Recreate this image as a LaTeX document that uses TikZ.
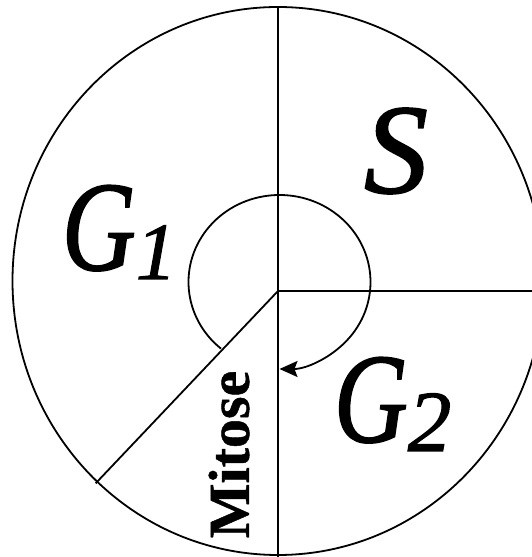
\documentclass[tikz,border=0pt]{standalone}
\usepackage{fontspec}
\setmainfont{Liberation Serif}
\newfontfamily\labelfam{Liberation Serif}[ItalicFeatures={FakeBold=1.3}]
\newfontfamily\phasefam{Liberation Serif}[BoldFeatures={FakeBold=0.8}]
\usetikzlibrary{arrows.meta}
\begin{document}
\begin{tikzpicture}[x=1pt,y=1pt,line width=1.8pt,
  lbl/.style={inner sep=0pt,font=\fontsize{128}{128}\labelfam\itshape},
  phase/.style={inner sep=0pt,rotate=90,font=\fontsize{58}{58}\phasefam\bfseries},
  cyc/.style={-{Stealth[length=18pt,width=16pt,inset=3pt]}}]
\useasboundingbox (0,0) rectangle (532,557);
\clip (0,0) rectangle (532,557);
\coordinate (E) at (278,276);
\coordinate (C) at (278,266);
\coordinate (T) at (278,550);
\coordinate (B) at (278,0);
\coordinate (R) at (545,266);
\coordinate (D) at (95.7,73.7);
\coordinate (I) at (279.5,275);
\draw (E) ellipse [x radius=265.5pt, y radius=274pt];
\draw (T) -- (B);
\draw (C) -- (R);
\draw (C) -- (D);
\draw[cyc] (I) ++(230:91pt and 87pt)
  arc [start angle=230, end angle=-90, x radius=91pt, y radius=87pt];
\node[lbl,anchor=base west] (g1) at (61,287) {\scalebox{0.8}[1]{G}\raisebox{-9pt}{\fontsize{81}{81}\selectfont 1}};
\node[lbl,anchor=base west] (g2) at (333,115) {\scalebox{0.8}[1]{G}\raisebox{-9pt}{\fontsize{87}{87}\selectfont 2}};
\node[lbl] (s) at (396,406) {S};
\node[phase] (m) at (229,102.5) {Mitose};
\end{tikzpicture}
\end{document}
